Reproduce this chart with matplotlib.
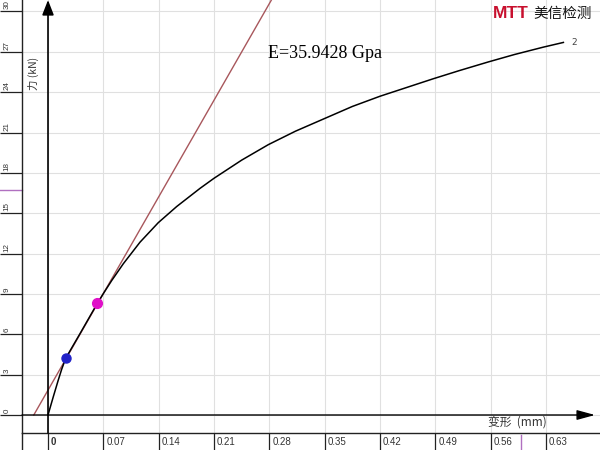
import matplotlib.pyplot as plt
from matplotlib.transforms import ScaledTranslation

# Load-deflection curve (deflection in mm, force in kN)
defl = [0, 0.0067, 0.013, 0.0173, 0.0224, 0.040, 0.0624, 0.0708, 0.0806, 0.0953,
        0.1164, 0.1395, 0.1628, 0.1923, 0.210, 0.245, 0.2787, 0.313, 0.3482,
        0.385, 0.420, 0.4874, 0.520, 0.557, 0.590, 0.6266, 0.652]
force = [0, 1.36, 2.6, 3.4, 4.22, 6.0, 8.3, 9.1, 10.0, 11.25,
         12.85, 14.3, 15.5, 16.85, 17.6, 18.95, 20.1, 21.1, 22.0,
         22.94, 23.7, 25.0, 25.6, 26.25, 26.8, 27.35, 27.7]

# modulus tangent line and the two points it was fitted through
tangent_x = [-0.018, 0.285]
tangent_y = [0.0, 31.1]
pt_lo = (0.0224, 4.22)
pt_hi = (0.0624, 8.30)
modulus_text = "E=35.9428 Gpa"

x_ticks = [0, 0.07, 0.14, 0.21, 0.28, 0.35, 0.42, 0.49, 0.56, 0.63]
x_labels = ["0", "0.07", "0.14", "0.21", "0.28", "0.35", "0.42", "0.49", "0.56", "0.63"]
y_ticks = [0, 3, 6, 9, 12, 15, 18, 21, 24, 27, 30]
y_labels = [str(v) for v in y_ticks]

# cursor marks in the ruler strips
cursor_force = 16.7
cursor_defl = 0.598

# axis limits chosen so the plot area sits like the screenshot
x_min, x_max = -0.0329, 0.6983
y_min, y_max = -1.338, 30.855

fig = plt.figure(figsize=(6, 4.5), dpi=100)
ax = fig.add_axes([22/600, 17/450, 578/600, 433/450])
ax.set_xlim(x_min, x_max)
ax.set_ylim(y_min, y_max)

for s in ["top", "right"]:
    ax.spines[s].set_visible(False)
for s in ["left", "bottom"]:
    ax.spines[s].set_color("#222222")
    ax.spines[s].set_linewidth(1.0)

ax.grid(True, color="#e0e0e0", lw=0.8)
ax.set_axisbelow(True)

# x ruler ticks
ax.set_xticks(x_ticks)
ax.set_xticklabels(x_labels, fontsize=7, family="Liberation Sans", color="#333333",
                   ha="left", va="center")
ax.tick_params(axis="x", length=12.24, width=0.9, color="#222222", pad=-5.9)
shift = ScaledTranslation(3/100, 0, fig.dpi_scale_trans)
for lbl in ax.get_xticklabels():
    lbl.set_transform(lbl.get_transform() + shift)
ax.get_xticklabels()[0].set_fontweight("bold")

# y ruler ticks (rotated labels sitting above each tick line)
ax.set_yticks(y_ticks)
ax.set_yticklabels(y_labels, fontsize=5.8, family="Liberation Sans", color="#333333",
                   rotation=90, ha="center", va="bottom")
ax.tick_params(axis="y", length=15.84, width=0.9, color="#222222", pad=-5.0)
up = ScaledTranslation(0, 2/100, fig.dpi_scale_trans)
for lbl in ax.get_yticklabels():
    lbl.set_transform(lbl.get_transform() + up)

# arrows for the axes
ax.annotate("", xy=(0, y_max), xytext=(0, y_min), annotation_clip=False,
            arrowprops=dict(arrowstyle="-|>,head_length=0.9,head_width=0.35",
                            color="black", lw=1.2, shrinkA=0, shrinkB=0))
ax.annotate("", xy=(0.692, 0), xytext=(x_min, 0), annotation_clip=False,
            arrowprops=dict(arrowstyle="-|>,head_length=1.1,head_width=0.3",
                            color="black", lw=1.0, shrinkA=0, shrinkB=0))

# curve, tangent and fit points
ax.plot(tangent_x, tangent_y, color="#a8575c", lw=1.0)
ax.plot(defl, force, color="black", lw=1.1)
ax.plot(*pt_lo, "o", color="#2222c8", ms=6.5)
ax.plot(*pt_hi, "o", color="#e010c8", ms=7)
ax.text(defl[-1] + 0.01, force[-1], "2", fontsize=6.5, color="#444444", va="center",
        family="DejaVu Sans")

ax.text(0.278, 26.9, modulus_text, fontsize=13, family="Liberation Serif", va="center")

# axis titles
ax.text(-0.0188, 25.4, "力 (kN)", rotation=90, fontsize=7.5, va="center", ha="center",
        family=["Noto Sans CJK SC", "DejaVu Sans"], color="#333333")
ax.text(0.556, -0.55, "变形  (mm)", fontsize=8.5, va="center", ha="left",
        family=["Noto Sans CJK SC", "DejaVu Sans"], color="#333333")

# strip lines and cursor marks outside the plot area
ax.plot([x_min, x_min], [y_min, y_min - 1.3], color="#222222", lw=1.0, clip_on=False)
ax.plot([-0.0607, x_min], [cursor_force, cursor_force], color="#b070c0", lw=1.0,
        clip_on=False)
ax.plot([cursor_defl, cursor_defl], [y_min - 0.15, y_min - 1.3], color="#b070c0",
        lw=1.0, clip_on=False)

# logo
fig.text(493/600, 1 - 13/450, "MTT", fontsize=12.5, fontweight="bold", color="#c8102e",
         va="center", ha="left", family="Liberation Sans")
fig.text(533/600, 1 - 14/450, "美信检测", fontsize=10.5, color="#111111", va="center",
         ha="left", family=["Noto Sans CJK SC", "DejaVu Sans"])

fig.savefig("out.png", dpi=100)
